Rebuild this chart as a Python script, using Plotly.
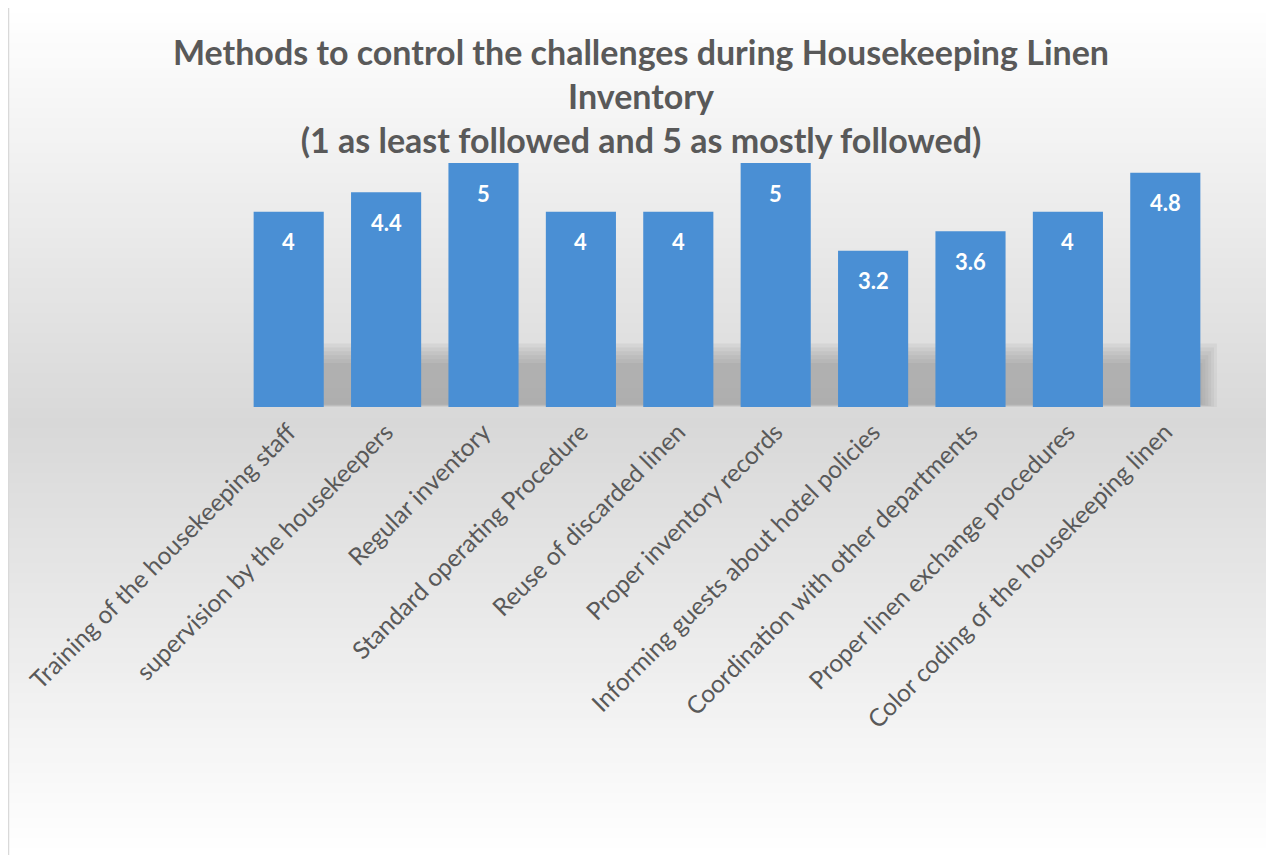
import plotly.graph_objects as go

categories = [
    "Training of the housekeeping staff",
    "supervision by the housekeepers",
    "Regular inventory",
    "Standard operating Procedure",
    "Reuse of discarded linen",
    "Proper inventory records",
    "Informing guests about hotel policies",
    "Coordination with other departments",
    "Proper linen exchange procedures",
    "Color coding of the housekeeping linen",
]
values = [4, 4.4, 5, 4, 4, 5, 3.2, 3.6, 4, 4.8]
value_labels = ["4", "4.4", "5", "4", "4", "5", "3.2", "3.6", "4", "4.8"]

# page body has an 8px margin, so the figure is drawn 8px smaller
W, H = 1266, 847
L, R, T, B = 232, 60, 155, 448
pw, ph = W - L - R, H - T - B

def px_to_paper_y(py):
    return (H - B - py) / ph

def px_to_paper_x(px):
    return (px - L) / pw

def lerp(c1, c2, t):
    return tuple(int(round(a + (b - a) * t)) for a, b in zip(c1, c2))

shapes = []
# vertical background gradient white -> gray -> white
top_c, mid_c, bot_c = (255, 255, 255), (216, 216, 216), (255, 255, 255)
mid_py = 415
step = 5
for py in range(0, H, step):
    c = py + step / 2
    if c <= mid_py:
        col = lerp(top_c, mid_c, c / mid_py)
    else:
        col = lerp(mid_c, bot_c, (c - mid_py) / (H - mid_py))
    shapes.append(dict(
        type="rect", xref="paper", yref="paper",
        x0=px_to_paper_x(0), x1=px_to_paper_x(W),
        y0=px_to_paper_y(py + step + 0.5), y1=px_to_paper_y(py),
        fillcolor="rgb(%d,%d,%d)" % col, line=dict(width=0), layer="below",
    ))

# soft shadow band behind the bars
layers = [
    (0.00, 1.30, 0.020, 1.003),
    (0.01, 1.22, 0.023, 1.000),
    (0.02, 1.14, 0.026, 0.997),
    (0.03, 1.06, 0.029, 0.994),
    (0.04, 0.98, 0.032, 0.991),
    (0.05, 0.90, 0.035, 0.988),
]
for y0, y1, x0, x1 in layers:
    shapes.append(dict(
        type="rect", xref="paper", yref="y",
        x0=x0, x1=x1, y0=y0, y1=y1,
        fillcolor="rgba(120,120,120,0.09)", line=dict(width=0), layer="below",
    ))

# left border line of the chart area
shapes.append(dict(
    type="line", xref="paper", yref="paper",
    x0=px_to_paper_x(0.5), x1=px_to_paper_x(0.5),
    y0=px_to_paper_y(H), y1=px_to_paper_y(0),
    line=dict(color="#d9d9d9", width=1.5), layer="below",
))

fig = go.Figure(go.Bar(
    x=categories, y=values,
    marker=dict(color="#4a8fd4", line=dict(width=0)),
    hoverinfo="x+y",
))

FONT = "Lato, 'Open Sans', sans-serif"

annotations = [
    dict(x=c, y=v, text="<b>%s</b>" % t, showarrow=False, yshift=-30,
         xref="x", yref="y",
         font=dict(family=FONT, size=22, color="white"))
    for c, v, t in zip(categories, values, value_labels)
]

fig.update_layout(
    width=W, height=H,
    margin=dict(l=L, r=R, t=T, b=B, pad=0),
    paper_bgcolor="white",
    plot_bgcolor="rgba(0,0,0,0)",
    showlegend=False,
    bargap=0.28,
    title=dict(
        text="<b>Methods to control the challenges during Housekeeping Linen<br>Inventory<br>(1 as least followed and 5 as mostly followed)</b>",
        x=0.5, xanchor="center", xref="container",
        y=1 - 57 / H, yanchor="top",
        font=dict(family=FONT, size=34, color="#595959"),
    ),
    xaxis=dict(
        tickangle=-45, showgrid=False, showline=False, zeroline=False,
        ticks="", ticklabelstandoff=5,
        tickfont=dict(family=FONT, size=24.5, color="#595959"),
    ),
    yaxis=dict(range=[0, 5], visible=False, showgrid=False, zeroline=False),
    shapes=shapes,
    annotations=annotations,
)

fig.write_html("out.html")
